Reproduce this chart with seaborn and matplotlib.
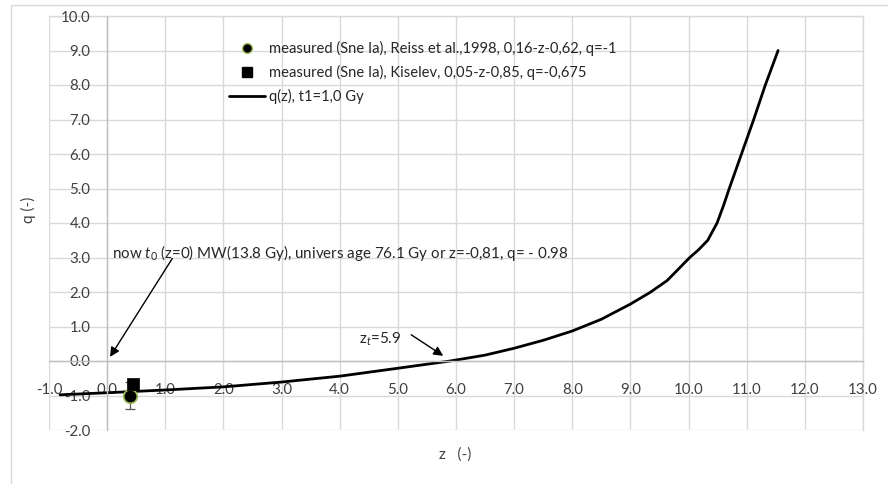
import matplotlib
matplotlib.use("Agg")
import matplotlib.pyplot as plt
import seaborn as sns
import pandas as pd
from matplotlib.lines import Line2D
from matplotlib.patches import Rectangle
from matplotlib.ticker import MultipleLocator, FormatStrFormatter

# deceleration parameter q(z), t1 = 1.0 Gy
z_curve = [-0.81, 0.0, 1.0, 2.0, 3.0, 4.0, 5.0, 5.9, 6.5, 7.0, 7.5, 8.0, 8.5,
           9.0, 9.34, 9.63, 9.8, 10.02, 10.17, 10.33, 10.49, 10.6, 10.7,
           10.91, 11.12, 11.32, 11.54]
q_curve = [-0.98, -0.92, -0.84, -0.75, -0.61, -0.44, -0.21, 0.0, 0.17, 0.37,
           0.60, 0.87, 1.21, 1.65, 1.99, 2.33, 2.62, 3.0, 3.22, 3.5, 4.0,
           4.5, 5.0, 6.0, 7.0, 8.0, 9.0]

# supernova measurements
reiss_z = [0.39]
reiss_q = [-1.0]
reiss_err = [0.4]
kiselev_z = [0.45]
kiselev_q = [-0.675]

x_ticks = [-1.0, 0.0, 1.0, 2.0, 3.0, 4.0, 5.0, 6.0, 7.0, 8.0, 9.0, 10.0,
           11.0, 12.0, 13.0]
y_ticks = [-2.0, -1.0, 0.0, 1.0, 2.0, 3.0, 4.0, 5.0, 6.0, 7.0, 8.0, 9.0, 10.0]

label_reiss = "measured (Sne Ia), Reiss et al.,1998, 0,16-z-0,62, q=-1"
label_kiselev = "measured (Sne Ia), Kiselev, 0,05-z-0,85, q=-0,675"
label_curve = "q(z), t1=1,0 Gy"

sns.set_style("white")
plt.rcParams['font.family'] = ['Lato', 'DejaVu Sans']
plt.rcParams['mathtext.fontset'] = 'custom'
plt.rcParams['mathtext.rm'] = 'Lato'
plt.rcParams['mathtext.it'] = 'Lato:italic'

W, H = 888, 484
fig = plt.figure(figsize=(W / 100, H / 100), dpi=100)
fig.patches.append(Rectangle((11 / W, -0.2), 1.2, 1.2 - 5 / H,
                             transform=fig.transFigure, fill=False,
                             edgecolor='#d9d9d9', linewidth=1.0))

ax = fig.add_axes([49 / W, 1 - 430 / H, 814 / W, 414 / H])
ax.set_axisbelow(True)

curve = pd.DataFrame({"z": z_curve, "q": q_curve})
sns.lineplot(data=curve, x="z", y="q", ax=ax, color="black", linewidth=2.0,
             sort=False, estimator=None)

ax.errorbar(reiss_z, reiss_q, yerr=reiss_err, fmt='none', ecolor='#595959',
            elinewidth=0.9, capsize=3.5, capthick=0.9, zorder=3)
sns.scatterplot(x=reiss_z, y=reiss_q, ax=ax, marker='o', s=95,
                color='black', edgecolor='#9BBB59', linewidth=1.2, zorder=4)
sns.scatterplot(x=kiselev_z, y=kiselev_q, ax=ax, marker='s', s=70,
                color='black', edgecolor='black', linewidth=0.5, zorder=4)

ax.set_xlim(x_ticks[0], x_ticks[-1])
ax.set_ylim(y_ticks[0], y_ticks[-1])
ax.set_xticks(x_ticks)
ax.set_yticks(y_ticks)
ax.xaxis.set_major_formatter(FormatStrFormatter('%.1f'))
ax.yaxis.set_major_formatter(FormatStrFormatter('%.1f'))
ax.xaxis.set_minor_locator(MultipleLocator(0.2))
ax.yaxis.set_minor_locator(MultipleLocator(0.5))
ax.grid(True, which='major', color='#d9d9d9', linewidth=1.0)
for gl in ax.get_xgridlines() + ax.get_ygridlines():
    gl.set_clip_on(False)

# plot-area border on the top and right, axis lines through the origin
for s in ('top', 'right'):
    ax.spines[s].set_color('#d9d9d9')
    ax.spines[s].set_linewidth(1.0)
    ax.spines[s].set_zorder(0.4)
ax.spines['left'].set_position(('data', 0))
ax.spines['bottom'].set_position(('data', 0))
for s in ('left', 'bottom'):
    ax.spines[s].set_color('#bfbfbf')
    ax.spines[s].set_linewidth(1.0)

ax.tick_params(axis='x', which='major', length=0, pad=15.5,
               labelsize=10.8, labelcolor='#404040')
ax.tick_params(axis='y', which='major', length=0, pad=12,
               labelsize=10.8, labelcolor='#404040')
ax.tick_params(which='minor', direction='in', length=3, width=0.8,
               color='#bfbfbf')
ax.set_xlabel("")
ax.set_ylabel("")

fig.text(28 / W, 1 - 210 / H, "q (-)", rotation=90, ha='center',
         va='center', fontsize=11, color='#404040')
fig.text(455 / W, 1 - 455 / H, "z   (-)", ha='center', va='center',
         fontsize=11, color='#404040')

handles = [
    Line2D([], [], linestyle='none', marker='o', markersize=7,
           markerfacecolor='black', markeredgecolor='#9BBB59',
           markeredgewidth=1.0),
    Line2D([], [], linestyle='none', marker='s', markersize=7,
           markerfacecolor='black', markeredgecolor='black'),
    Line2D([], [], color='black', linewidth=2.0),
]
ax.legend(handles, [label_reiss, label_kiselev, label_curve],
          loc='upper left', bbox_to_anchor=(180 / 814, 1 - 25 / 414),
          frameon=False, fontsize=10.6, handlelength=2.45, handletextpad=0.3,
          borderpad=0, borderaxespad=0, labelspacing=0.6,
          labelcolor='#262626')

ax.text(0.08, 3.14, r"now $t_0$ (z=0) MW(13.8 Gy), univers age 76.1 Gy or "
        r"z=-0,81, q= - 0.98", fontsize=10.9, color='#262626',
        ha='left', va='center')
ax.annotate("", xy=(0.05, 0.12), xytext=(1.12, 2.97),
            arrowprops=dict(arrowstyle='-|>', color='black', lw=1.0,
                            mutation_scale=14, shrinkA=0, shrinkB=0))

ax.text(4.33, 0.64, r"z$_t$=5.9", fontsize=11, color='#262626',
        ha='left', va='center')
ax.annotate("", xy=(5.78, 0.15), xytext=(5.23, 0.76),
            arrowprops=dict(arrowstyle='-|>', color='black', lw=1.0,
                            mutation_scale=14, shrinkA=0, shrinkB=0))

fig.savefig("out.png", dpi=100)
